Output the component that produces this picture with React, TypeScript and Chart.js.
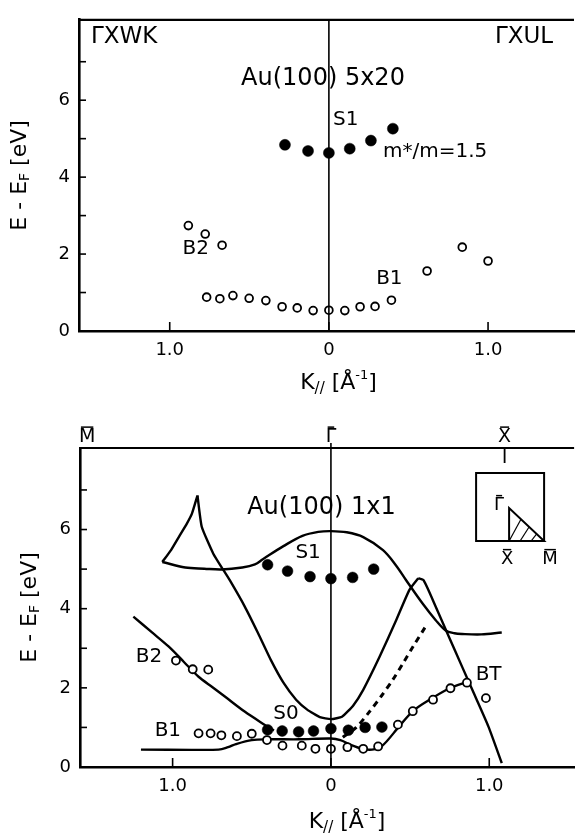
import React, { useEffect, useRef } from 'react';
import { Chart, registerables } from 'chart.js';

Chart.register(...registerables);

const FONT = "'DejaVu Sans', sans-serif";

// ---------- Top panel: Au(100) 5x20 ----------
const topS1K = [-0.276, -0.131, 0, 0.131, 0.264, 0.402];
const topS1E = [4.84, 4.68, 4.63, 4.74, 4.95, 5.26];
const topOpenK = [-0.883, -0.777, -0.671, -0.768, -0.685, -0.603, -0.501, -0.396, -0.294, -0.199, -0.099, 0, 0.1, 0.196, 0.29, 0.393, 0.617, 0.838, 1.0];
const topOpenE = [2.74, 2.52, 2.23, 0.88, 0.84, 0.92, 0.85, 0.79, 0.63, 0.6, 0.53, 0.54, 0.53, 0.63, 0.64, 0.8, 1.56, 2.18, 1.82];

// ---------- Bottom panel: Au(100) 1x1 ----------
const botS1K = [-0.4, -0.274, -0.132, 0, 0.137, 0.27];
const botS1E = [5.11, 4.95, 4.81, 4.76, 4.79, 5.0];
const botS0K = [-0.4, -0.308, -0.204, -0.11, 0, 0.11, 0.216, 0.322];
const botS0E = [0.94, 0.91, 0.89, 0.91, 0.97, 0.93, 1.0, 1.01];
const botOpenK = [-0.979, -0.873, -0.775, -0.836, -0.76, -0.692, -0.594, -0.5, -0.404, -0.306, -0.184, -0.098, 0, 0.104, 0.204, 0.298, 0.423, 0.517, 0.645, 0.755, 0.859, 0.979];
const botOpenE = [2.69, 2.47, 2.46, 0.85, 0.85, 0.8, 0.78, 0.84, 0.68, 0.54, 0.54, 0.46, 0.46, 0.5, 0.46, 0.52, 1.07, 1.41, 1.7, 1.99, 2.13, 1.74];

// theory curves (bottom panel)
const cuspK = [-1.065, -1.01, -0.961, -0.91, -0.878, -0.843];
const cuspE = [5.18, 5.48, 5.81, 6.15, 6.4, 6.86];
const upperK = [-1.065, -0.92, -0.8, -0.69, -0.56, -0.48, -0.43, -0.3, -0.18, -0.08, 0, 0.1, 0.204, 0.329, 0.41, 0.475, 0.579, 0.662, 0.725, 0.78, 0.829, 0.95, 1.079];
const upperE = [5.18, 5.04, 5.01, 4.99, 5.04, 5.12, 5.25, 5.58, 5.84, 5.94, 5.96, 5.93, 5.81, 5.48, 5.1, 4.72, 4.13, 3.71, 3.45, 3.38, 3.36, 3.35, 3.4];
const vLeftK = [-0.843, -0.816, -0.743, -0.68, -0.639, -0.545, -0.46, -0.379, -0.3, -0.22, -0.15, -0.07, 0, 0.07, 0.14, 0.204, 0.308, 0.412, 0.495, 0.552];
const vLeftE = [6.86, 6.07, 5.39, 4.98, 4.72, 4.06, 3.38, 2.7, 2.13, 1.7, 1.45, 1.26, 1.21, 1.27, 1.55, 1.95, 2.79, 3.71, 4.47, 4.77];
const vRightK = [0.552, 0.585, 0.662, 0.745, 0.829, 0.912, 0.995, 1.079];
const vRightE = [4.77, 4.72, 4.05, 3.29, 2.53, 1.78, 1.02, 0.1];
const b2LineK = [-1.248, -1.13, -1.024, -0.93, -0.836, -0.75, -0.67, -0.545, -0.42, -0.36];
const b2LineE = [3.8, 3.4, 3.04, 2.66, 2.28, 2.02, 1.78, 1.4, 1.07, 0.92];
const lowK = [-1.2, -0.71, -0.65, -0.6, -0.5, -0.4, -0.2, 0, 0.06, 0.12, 0.2, 0.26, 0.32, 0.43, 0.52, 0.64, 0.75, 0.87];
const lowE = [0.44, 0.44, 0.5, 0.58, 0.68, 0.7, 0.7, 0.72, 0.68, 0.57, 0.46, 0.44, 0.52, 1.02, 1.42, 1.74, 1.99, 2.16];
const dashK = [0.075, 0.16, 0.24, 0.32, 0.39, 0.46, 0.52, 0.595];
const dashE = [0.75, 1.0, 1.38, 1.8, 2.2, 2.65, 3.05, 3.53];

// axes
const xTickValues = [-1, 0, 1];
const xTickLabels = ['1.0', '0', '1.0'];
const yTickValues = [0, 1, 2, 3, 4, 5, 6, 7];
const yTickLabels = ['0', '', '2', '', '4', '', '6', ''];

// symmetry points on the top edge of the lower panel
const symK = [-1.54, 0, 1.097];
const symLabels = ['M', 'Γ', 'X'];

const pts = (k: number[], e: number[]) => k.map((x, i) => ({ x, y: e[i] }));

type Part = { t: string; size: number; dy?: number };

function drawParts(ctx: CanvasRenderingContext2D, parts: Part[], x: number, y: number, align: string) {
  const widths = parts.map((p) => {
    ctx.font = `${p.size}px ${FONT}`;
    return ctx.measureText(p.t).width;
  });
  const total = widths.reduce((a, b) => a + b, 0);
  let cx = align === 'center' ? x - total / 2 : align === 'right' ? x - total : x;
  ctx.textAlign = 'left';
  ctx.textBaseline = 'middle';
  ctx.fillStyle = '#000';
  parts.forEach((p, i) => {
    ctx.font = `${p.size}px ${FONT}`;
    ctx.fillText(p.t, cx, y + (p.dy || 0));
    cx += widths[i];
  });
}

function line(ctx: CanvasRenderingContext2D, x1: number, y1: number, x2: number, y2: number, w: number) {
  ctx.lineWidth = w;
  ctx.beginPath();
  ctx.moveTo(x1, y1);
  ctx.lineTo(x2, y2);
  ctx.stroke();
}

const yTitle: Part[] = [
  { t: 'E - E', size: 22 },
  { t: 'F', size: 14, dy: 5 },
  { t: ' [eV]', size: 22 },
];
const xTitle: Part[] = [
  { t: 'K', size: 22 },
  { t: '//', size: 15, dy: 6 },
  { t: ' [Å', size: 22 },
  { t: '-1', size: 13, dy: -7 },
  { t: ']', size: 22 },
];

type Ann = { text: string; k: number; e: number; align: string; size: number };

const topAnn: Ann[] = [
  { text: 'ΓXWK', k: -1.495, e: 7.64, align: 'left', size: 23 },
  { text: 'ΓXUL', k: 1.409, e: 7.64, align: 'right', size: 23 },
  { text: 'Au(100) 5x20', k: -0.037, e: 6.55, align: 'center', size: 24 },
  { text: 'S1', k: 0.106, e: 5.48, align: 'center', size: 20 },
  { text: 'm*/m=1.5', k: 0.34, e: 4.67, align: 'left', size: 20 },
  { text: 'B2', k: -0.836, e: 2.13, align: 'center', size: 20 },
  { text: 'B1', k: 0.38, e: 1.36, align: 'center', size: 20 },
];
const botAnn: Ann[] = [
  { text: 'Au(100) 1x1', k: -0.06, e: 6.54, align: 'center', size: 24 },
  { text: 'S1', k: -0.144, e: 5.4, align: 'center', size: 20 },
  { text: 'S0', k: -0.284, e: 1.34, align: 'center', size: 20 },
  { text: 'B2', k: -1.149, e: 2.78, align: 'center', size: 20 },
  { text: 'B1', k: -1.03, e: 0.92, align: 'center', size: 20 },
  { text: 'BT', k: 0.996, e: 2.33, align: 'center', size: 20 },
];

function barLetter(ctx: CanvasRenderingContext2D, txt: string, x: number, y: number, size: number) {
  ctx.font = `${size}px ${FONT}`;
  ctx.textAlign = 'center';
  ctx.textBaseline = 'middle';
  ctx.fillStyle = '#000';
  ctx.fillText(txt, x, y);
  const w = ctx.measureText(txt).width;
  line(ctx, x - w / 2 + 2, y - size * 0.52, x + w / 2 - 2, y - size * 0.52, 1.5);
}

function panelPlugin(p: any) {
  return {
    id: 'panel_' + p.name,
    afterDatasetsDraw(chart: any) {
      const { ctx, chartArea: ca, scales } = chart;
      const x0 = scales.x.getPixelForValue(0);
      ctx.save();
      ctx.strokeStyle = '#000';
      line(ctx, x0, p.lower ? ca.top - 5 : ca.top, x0, ca.bottom, 1.6);
      ctx.restore();
    },
    afterDraw(chart: any) {
      const { ctx, chartArea: ca, scales } = chart;
      const xs = scales.x;
      const ys = scales.y;
      ctx.save();
      ctx.strokeStyle = '#000';
      ctx.fillStyle = '#000';
      // top frame line
      line(ctx, ca.left - 1, ca.top, ca.right, ca.top, 2.2);
      // inward ticks
      yTickValues.forEach((v) => {
        const py = ys.getPixelForValue(v);
        line(ctx, ca.left, py, ca.left + 7, py, 1.6);
      });
      xTickValues.forEach((v) => {
        const px = xs.getPixelForValue(v);
        line(ctx, px, ca.bottom, px, ca.bottom - 9, 1.6);
      });
      // annotations
      p.ann.forEach((a: Ann) => {
        drawParts(ctx, [{ t: a.text, size: a.size }], xs.getPixelForValue(a.k), ys.getPixelForValue(a.e), a.align);
      });
      // axis titles
      ctx.save();
      ctx.translate(p.yTitleX, (ca.top + ca.bottom) / 2);
      ctx.rotate(-Math.PI / 2);
      drawParts(ctx, yTitle, 0, 0, 'center');
      ctx.restore();
      drawParts(ctx, xTitle, (ca.left + ca.right) / 2 + p.xTitleDx, ca.bottom + p.xTitleDy, 'center');

      if (p.lower) {
        // symmetry point labels along the top edge
        symK.forEach((k, i) => {
          barLetter(ctx, symLabels[i], xs.getPixelForValue(k), ca.top - 11, 19);
        });
        const xX = xs.getPixelForValue(symK[2]);
        line(ctx, xX, ca.top, xX, ca.top + 15, 1.8);
        // inset: surface Brillouin zone
        const L = ca.right - 98;
        const T = ca.top + 25;
        const S = 68;
        ctx.lineWidth = 2;
        ctx.strokeRect(L, T, S, S);
        const vx = L + 33;
        ctx.beginPath();
        ctx.moveTo(vx, T + 35);
        ctx.lineTo(vx, T + S);
        ctx.lineTo(L + S, T + S);
        ctx.closePath();
        ctx.stroke();
        ctx.save();
        ctx.beginPath();
        ctx.moveTo(vx, T + 35);
        ctx.lineTo(vx, T + S);
        ctx.lineTo(L + S, T + S);
        ctx.closePath();
        ctx.clip();
        [0, 11, 22].forEach((o) => {
          line(ctx, vx + o, T + S, vx + o + 12, T + 46 + o * 0.3, 1.2);
        });
        ctx.restore();
        barLetter(ctx, 'Γ', vx - 10, T + 32, 18);
        barLetter(ctx, 'X', vx - 2, T + S + 18, 18);
        barLetter(ctx, 'M', L + S + 6, T + S + 18, 18);
      }
      ctx.restore();
    },
  };
}

function buildConfig(p: any): any {
  return {
    type: 'scatter',
    data: { datasets: p.datasets },
    options: {
      responsive: false,
      animation: false,
      devicePixelRatio: 1,
      layout: { padding: { top: p.padTop, right: 0, left: 0, bottom: 0 } },
      plugins: { legend: { display: false }, tooltip: { enabled: false } },
      scales: {
        x: {
          type: 'linear',
          min: p.xMin,
          max: p.xMax,
          grid: { display: false, drawTicks: false },
          border: { display: true, width: 2.6, color: '#000' },
          ticks: {
            autoSkip: false,
            maxRotation: 0,
            padding: 9,
            color: '#000',
            font: { family: FONT, size: 18 },
            callback: (_v: any, i: number) => xTickLabels[i] ?? '',
          },
          afterBuildTicks: (s: any) => {
            s.ticks = xTickValues.map((value) => ({ value }));
          },
          afterFit: (s: any) => {
            s.height = p.height - p.areaBottom;
          },
        },
        y: {
          type: 'linear',
          min: 0,
          max: p.yMax,
          grid: { display: false, drawTicks: false },
          border: { display: true, width: 2.6, color: '#000' },
          ticks: {
            autoSkip: false,
            padding: 9,
            color: '#000',
            font: { family: FONT, size: 18 },
            callback: (_v: any, i: number) => yTickLabels[i] ?? '',
          },
          afterBuildTicks: (s: any) => {
            s.ticks = yTickValues.map((value) => ({ value }));
          },
          afterFit: (s: any) => {
            s.width = p.yWidth;
          },
        },
      },
    },
    plugins: [panelPlugin(p)],
  };
}

const filled = (data: any[], r: number) => ({
  data,
  pointRadius: r,
  pointBackgroundColor: '#000',
  pointBorderColor: '#000',
  pointBorderWidth: 0.5,
  showLine: false,
});
const open = (data: any[], r: number) => ({
  data,
  pointRadius: r,
  pointBackgroundColor: '#fff',
  pointBorderColor: '#000',
  pointBorderWidth: 1.8,
  showLine: false,
});
const curve = (data: any[], tension: number, dashed = false) => ({
  data,
  showLine: true,
  pointRadius: 0,
  borderColor: '#000',
  borderWidth: dashed ? 3 : 2.4,
  borderDash: dashed ? [6, 5] : [],
  tension,
  fill: false,
});

const topPanel: any = {
  name: 'top',
  height: 400,
  padTop: 5,
  yWidth: 79,
  xMin: -1.57,
  xMax: 1.54,
  yMax: 8.09,
  areaBottom: 331,
  ann: topAnn,
  yTitleX: 20,
  xTitleDy: 52,
  xTitleDx: 12,
  lower: false,
  datasets: [filled(pts(topS1K, topS1E), 5.5), open(pts(topOpenK, topOpenE), 3.9)],
};

const botPanel: any = {
  name: 'bottom',
  height: 434,
  padTop: 48,
  yWidth: 80,
  xMin: -1.585,
  xMax: 1.536,
  yMax: 8.06,
  areaBottom: 367,
  ann: botAnn,
  yTitleX: 30,
  xTitleDy: 55,
  xTitleDx: 20,
  lower: true,
  datasets: [
    filled(pts(botS1K, botS1E), 5.4),
    filled(pts(botS0K, botS0E), 5.4),
    open(pts(botOpenK, botOpenE), 4),
    curve(pts(upperK, upperE), 0.35),
    curve(pts(cuspK, cuspE), 0.15),
    curve(pts(vLeftK, vLeftE), 0.15),
    curve(pts(vRightK, vRightE), 0.2),
    curve(pts(b2LineK, b2LineE), 0.3),
    curve(pts(lowK, lowE), 0.35),
    curve(pts(dashK, dashE), 0.3, true),
  ],
};

export default function App() {
  const topRef = useRef<HTMLCanvasElement>(null);
  const botRef = useRef<HTMLCanvasElement>(null);
  useEffect(() => {
    const c1 = new Chart(topRef.current as HTMLCanvasElement, buildConfig(topPanel));
    const c2 = new Chart(botRef.current as HTMLCanvasElement, buildConfig(botPanel));
    return () => {
      c1.destroy();
      c2.destroy();
    };
  }, []);
  return (
    <div style={{ position: 'absolute', left: 0, top: 0, width: 580, height: 834, background: '#fff' }}>
      <canvas ref={topRef} width={580} height={400} style={{ position: 'absolute', left: 0, top: 0 }} />
      <canvas ref={botRef} width={580} height={434} style={{ position: 'absolute', left: 0, top: 400 }} />
    </div>
  );
}
